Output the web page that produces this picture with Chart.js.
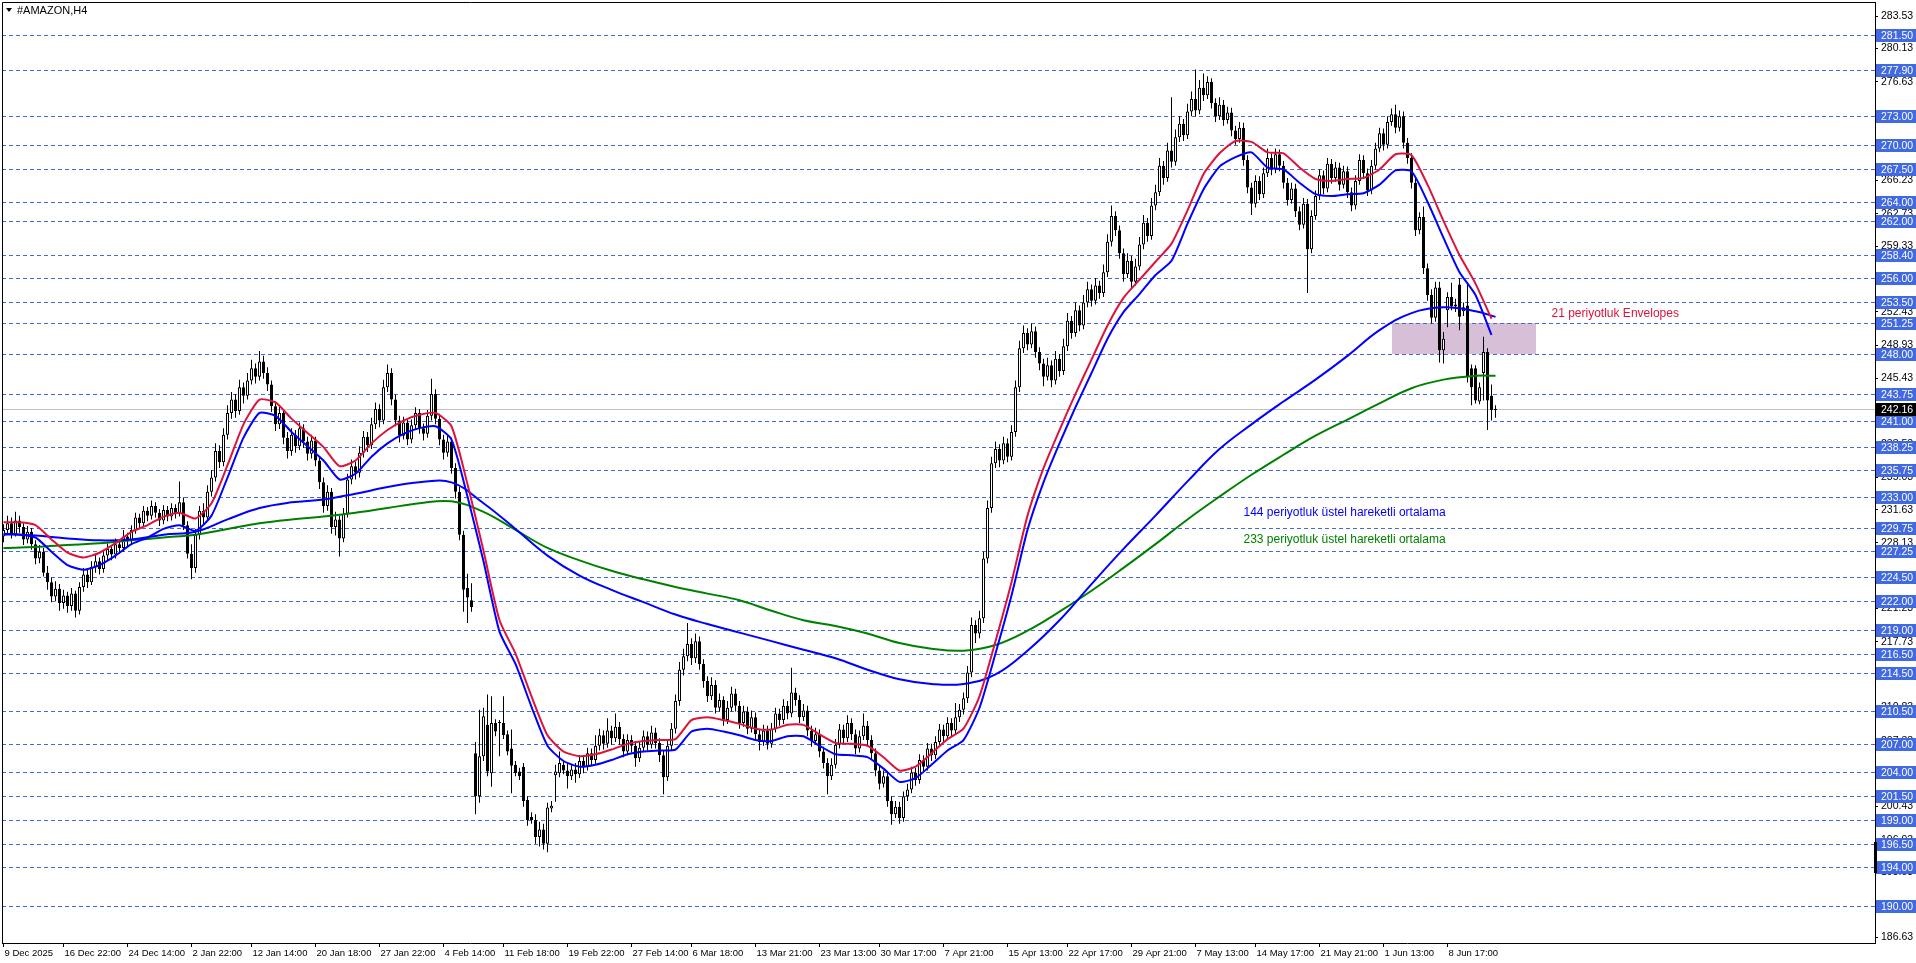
<!DOCTYPE html>
<html>
<head>
<meta charset="utf-8">
<title>#AMAZON,H4</title>
<script src="https://cdn.jsdelivr.net/npm/chart.js@4.4.1/dist/chart.umd.min.js"></script>
<style>
  html, body { margin: 0; padding: 0; background: #fff; }
  canvas { display: block; }
</style>
</head>
<body>
<canvas id="chart" width="1916" height="963"></canvas>
<script>
// time axis labels and the bar each one sits on
const timeLabels = ['9 Dec 2025', '16 Dec 22:00', '24 Dec 14:00', '2 Jan 22:00', '12 Jan 14:00', '20 Jan 18:00',
  '27 Jan 22:00', '4 Feb 14:00', '11 Feb 18:00', '19 Feb 22:00', '27 Feb 14:00', '6 Mar 18:00', '13 Mar 21:00',
  '23 Mar 13:00', '30 Mar 17:00', '7 Apr 21:00', '15 Apr 13:00', '22 Apr 17:00', '29 Apr 21:00', '7 May 13:00',
  '14 May 17:00', '21 May 21:00', '1 Jun 13:00', '8 Jun 17:00'];
const labelBars = [0, 15, 31, 47, 62, 78, 94, 110, 125, 141, 157, 172, 188, 204, 219, 235, 251, 266, 282, 298,
  313, 329, 345, 361];

// H4 candles
const open = [
  228.8,229.5,230.2,229.0,230.5,229.8,228.5,229.3,228.0,226.5,227.2,225.0,224.0,222.5,223.3,221.8,
  222.6,221.5,222.8,221.0,223.5,224.8,224.0,225.6,226.2,225.4,226.8,227.5,226.9,228.0,227.6,228.8,
  228.3,229.5,230.8,230.2,231.5,231.0,232.0,231.3,230.5,231.6,230.9,231.8,231.2,232.4,230.0,227.0,
  225.5,229.0,231.5,230.8,233.5,235.0,237.8,236.6,239.5,241.8,243.2,242.0,244.5,243.6,245.2,246.5,
  245.6,247.2,246.0,244.8,242.5,240.6,241.8,239.2,237.8,239.5,238.3,240.2,238.8,237.5,238.9,236.8,
  234.5,232.0,233.5,229.8,230.6,228.6,231.2,234.8,236.2,235.5,237.6,239.3,238.4,240.6,242.2,241.0,
  244.5,246.0,243.2,241.0,239.4,240.8,239.0,240.5,241.8,240.2,239.6,241.5,243.8,241.2,239.0,237.6,
  238.8,236.0,233.5,229.0,223.4,222.1,206.0,201.5,205.7,209.0,203.9,209.2,209.3,209.2,208.0,206.5,
  204.8,204.1,204.6,201.1,199.3,199.0,197.2,198.0,196.5,200.2,203.7,203.9,204.8,204.2,203.6,204.3,
  203.8,205.2,204.6,206.0,205.3,206.8,207.9,207.0,208.4,207.6,208.8,207.5,206.2,207.4,206.8,205.5,
  206.6,207.8,206.9,208.2,207.1,205.8,203.5,206.8,208.6,211.5,214.8,216.2,217.5,216.0,217.8,215.4,
  213.6,212.0,213.2,210.8,211.6,209.5,210.8,212.3,211.0,209.2,210.4,208.6,209.8,208.0,207.2,208.4,
  207.0,208.6,210.2,209.5,211.0,210.2,212.4,211.6,209.8,210.5,208.4,207.3,208.0,206.2,205.0,203.6,
  204.8,206.9,208.5,207.6,209.2,208.0,206.5,207.8,208.9,207.4,206.0,204.2,202.8,203.6,201.0,199.6,
  200.4,199.2,201.5,202.2,204.0,203.2,205.3,204.6,206.5,205.8,207.2,208.5,207.8,209.2,208.4,209.8,
  210.6,211.8,214.5,219.5,218.6,220.2,226.5,231.8,236.5,238.0,236.8,238.6,237.2,239.8,244.5,248.6,
  250.2,249.0,250.4,248.2,247.0,245.6,246.8,245.2,247.5,246.2,248.8,251.5,250.2,252.6,251.0,253.4,
  254.8,253.6,255.2,254.4,256.6,259.8,262.5,261.0,258.6,256.4,257.8,255.6,257.2,259.5,261.8,260.4,
  263.6,265.0,267.8,266.5,269.4,268.2,270.8,272.2,271.0,273.5,274.8,273.6,276.0,275.2,276.6,274.4,
  273.0,274.2,272.6,273.4,271.5,270.6,271.8,268.4,265.5,263.8,266.2,264.8,267.0,268.6,267.4,269.0,
  267.8,266.0,264.2,265.4,263.0,261.6,263.8,259.0,262.5,264.6,266.8,265.4,268.0,266.5,267.6,265.8,
  267.2,265.0,263.6,266.2,268.4,267.0,265.2,267.8,269.6,271.2,270.0,272.4,273.2,271.8,273.0,270.2,
  268.6,266.0,261.0,262.4,257.0,254.2,251.8,255.0,248.4,252.6,254.0,253.0,255.3,252.5,253.1,246.5,
  246.5,243.0,246.0,248.2,243.6,242.1
];
const high = [
  230.1,231.0,230.8,231.4,231.0,230.2,229.9,229.7,228.4,227.9,227.6,225.7,224.5,224.1,223.8,223.2,
  223.0,223.4,223.1,224.0,225.5,225.3,226.2,226.9,226.6,227.3,228.1,227.9,228.6,228.5,229.5,229.2,
  230.0,231.3,231.2,232.0,231.9,232.6,232.4,231.7,232.1,232.0,232.3,232.2,234.6,232.9,230.4,228.0,
  229.6,232.0,232.3,234.2,235.8,238.6,238.4,240.2,242.6,244.0,243.8,245.3,245.0,246.0,247.4,247.0,
  248.3,247.8,246.6,245.2,243.0,242.5,242.2,239.8,240.2,240.0,240.8,240.6,239.3,239.5,239.3,237.2,
  235.0,234.2,233.9,231.4,231.0,231.8,235.4,236.9,236.7,238.3,239.9,239.8,241.3,242.9,242.7,245.3,
  246.9,246.5,243.7,241.5,241.4,241.2,241.1,242.4,242.2,240.7,242.1,245.4,244.3,241.7,239.5,239.4,
  239.2,236.5,234.0,229.4,224.9,223.9,207.2,210.6,210.8,212.2,212.0,209.6,209.5,212.0,208.4,208.5,
  205.2,204.5,205.0,201.5,199.8,199.6,198.8,198.6,200.8,201.0,204.8,206.2,205.3,205.0,204.8,205.0,
  205.8,205.7,206.6,206.5,207.9,208.6,208.4,209.7,208.9,210.2,209.3,208.0,208.0,207.9,207.3,207.3,
  208.4,208.3,208.9,208.7,207.6,206.3,207.4,209.2,212.2,215.6,217.0,219.7,218.1,218.6,218.3,215.9,
  214.1,214.0,213.7,212.3,212.0,211.5,213.0,212.8,211.5,211.0,210.9,210.5,210.3,208.5,209.0,208.9,
  209.2,210.8,210.7,211.7,211.5,215.0,212.9,212.1,211.2,211.0,208.9,208.7,208.5,206.7,205.5,205.5,
  207.5,209.1,209.0,210.0,209.7,208.5,208.4,210.2,209.4,207.9,206.5,204.7,204.2,204.1,201.5,201.0,
  200.9,202.0,202.8,204.6,204.5,205.9,205.8,207.1,207.0,207.8,209.1,209.0,209.8,209.7,211.3,211.2,
  212.4,215.2,220.3,220.0,221.0,227.2,232.6,237.2,238.8,238.5,239.3,239.1,240.5,245.2,249.4,251.0,
  250.7,251.2,250.9,248.7,247.5,247.6,247.3,248.3,248.0,249.6,252.3,252.0,253.4,253.1,254.2,255.6,
  255.3,256.0,255.7,257.4,260.6,263.6,263.0,261.5,259.1,258.6,258.3,258.0,260.3,262.6,262.3,264.4,
  265.8,268.6,268.3,270.2,275.0,271.6,273.0,272.7,274.3,275.6,277.9,276.8,277.5,277.2,277.0,274.9,
  275.0,274.7,274.0,273.9,272.0,272.4,272.3,268.9,266.0,266.8,266.7,267.6,269.6,269.1,269.6,269.5,
  268.3,266.5,266.0,265.9,263.5,264.4,264.3,263.1,265.2,267.4,267.3,268.6,268.5,268.2,268.1,267.8,
  267.7,265.5,266.8,269.0,268.9,267.5,268.4,270.2,271.8,271.7,273.0,273.8,274.2,273.6,273.5,270.7,
  269.1,266.5,262.9,263.5,257.5,254.8,255.6,255.6,250.3,254.5,255.5,253.8,256.0,253.4,255.5,246.9,
  246.8,245.0,249.8,248.6,244.8,242.6
];
const low = [
  228.2,229.0,228.6,228.8,229.2,227.9,228.1,227.4,225.9,226.0,224.6,223.2,221.9,222.0,221.0,221.2,
  220.8,221.0,220.3,220.6,223.0,223.4,223.7,225.0,224.8,225.0,226.3,226.3,226.5,227.0,227.2,227.7,
  227.9,229.1,229.7,229.9,230.4,230.6,230.8,229.9,230.1,230.4,230.5,230.7,230.9,229.5,226.5,224.3,
  225.0,228.5,230.1,230.4,233.0,234.6,236.0,236.2,239.0,241.2,241.3,241.6,242.8,243.2,244.8,244.9,
  245.2,245.4,244.1,241.9,239.9,240.1,238.5,237.0,237.3,237.6,237.9,238.1,236.8,237.0,236.2,233.8,
  231.3,231.5,229.1,228.9,226.7,228.2,230.8,234.3,234.8,235.0,237.1,237.7,238.0,240.1,240.3,240.6,
  244.0,242.6,240.4,238.7,239.0,238.4,238.6,240.0,239.6,238.9,239.2,241.0,240.6,238.4,236.9,237.2,
  235.4,232.8,228.4,220.9,219.7,220.9,199.6,200.8,205.2,203.6,202.5,207.8,205.7,207.5,205.8,201.8,
  203.6,203.2,200.4,198.4,198.6,196.5,196.2,195.9,195.6,199.8,200.9,203.5,203.8,202.3,203.2,202.9,
  203.4,203.9,204.2,204.7,204.9,206.3,206.4,206.6,206.9,207.2,206.9,205.6,205.8,206.1,204.6,205.1,
  206.2,206.3,206.5,206.5,205.1,201.7,203.1,206.3,208.1,211.0,214.2,215.7,215.3,215.5,214.8,212.9,
  211.4,211.6,210.2,210.4,208.9,209.1,210.4,210.4,208.6,208.8,208.0,208.2,207.4,206.3,206.8,206.4,
  206.6,208.2,208.9,209.1,209.6,209.8,211.0,209.2,209.4,207.8,206.7,206.9,205.6,204.4,201.7,203.2,
  204.4,206.5,207.0,207.2,207.4,205.9,206.1,207.4,206.8,205.4,203.6,202.2,202.4,200.4,198.5,199.2,
  198.6,198.8,201.0,201.8,202.6,202.8,204.0,204.2,205.2,205.4,206.8,207.2,207.4,207.8,208.0,209.3,
  210.1,211.3,214.0,217.6,218.1,219.7,226.0,231.3,236.0,236.1,236.4,236.6,236.8,239.3,244.0,248.1,
  248.4,248.6,247.6,246.3,244.6,245.2,244.5,244.8,245.6,245.8,248.3,249.6,249.8,250.4,250.6,252.9,
  253.0,253.2,253.8,254.0,256.1,259.3,260.4,258.0,255.6,256.0,254.8,255.2,256.8,259.0,259.8,260.0,
  263.1,264.6,265.8,266.1,267.6,267.8,270.3,270.4,270.6,273.0,273.0,273.2,274.6,274.8,273.8,272.4,
  272.6,272.0,272.2,270.9,270.0,270.2,267.8,264.9,262.6,263.4,264.2,264.4,266.6,266.8,267.0,267.2,
  265.4,263.6,263.8,262.4,261.0,261.2,254.4,258.6,262.1,264.2,264.8,265.0,265.9,266.1,265.2,265.4,
  264.4,263.0,263.2,265.8,266.4,264.6,264.8,267.4,269.2,269.4,269.6,272.0,271.2,271.4,269.6,268.0,
  265.4,260.4,260.6,256.4,253.6,251.2,251.4,247.1,247.0,250.8,252.6,252.4,250.5,252.0,245.0,242.6,
  242.8,242.7,243.1,240.0,241.0,241.3
];
const close = [
  229.5,230.2,229.0,230.5,229.8,228.5,229.3,228.0,226.5,227.2,225.0,224.0,222.5,223.3,221.8,222.6,
  221.5,222.8,221.0,223.5,224.8,224.0,225.6,226.2,225.4,226.8,227.5,226.9,228.0,227.6,228.8,228.3,
  229.5,230.8,230.2,231.5,231.0,232.0,231.3,230.5,231.6,230.9,231.8,231.2,232.4,230.0,227.0,225.5,
  229.0,231.5,230.8,233.5,235.0,237.8,236.6,239.5,241.8,243.2,242.0,244.5,243.6,245.2,246.5,245.6,
  247.2,246.0,244.8,242.5,240.6,241.8,239.2,237.8,239.5,238.3,240.2,238.8,237.5,238.9,236.8,234.5,
  232.0,233.5,229.8,230.6,228.6,231.2,234.8,236.2,235.5,237.6,239.3,238.4,240.6,242.2,241.0,244.5,
  246.0,243.2,241.0,239.4,240.8,239.0,240.5,241.8,240.2,239.6,241.5,243.8,241.2,239.0,237.6,238.8,
  236.0,233.5,229.0,223.2,222.4,221.4,201.5,205.7,209.9,204.1,209.2,208.3,209.2,207.9,206.2,204.7,
  203.9,203.6,201.0,199.0,199.0,197.2,198.0,196.5,200.3,200.5,204.1,205.0,204.2,203.6,204.3,203.8,
  205.2,204.6,206.0,205.3,206.8,207.9,207.0,208.4,207.6,208.8,207.5,206.2,207.4,206.8,205.5,206.6,
  207.8,206.9,208.2,207.1,205.8,203.5,206.8,208.6,211.5,214.8,216.2,217.5,216.0,217.8,215.4,213.6,
  212.0,213.2,210.8,211.6,209.5,210.8,212.3,211.0,209.2,210.4,208.6,209.8,208.0,207.2,208.4,207.0,
  208.6,210.2,209.5,211.0,210.2,212.4,211.6,209.8,210.5,208.4,207.3,208.0,206.2,205.0,203.6,204.8,
  206.9,208.5,207.6,209.2,208.0,206.5,207.8,208.9,207.4,206.0,204.2,202.8,203.6,201.0,199.6,200.4,
  199.2,201.5,202.2,204.0,203.2,205.3,204.6,206.5,205.8,207.2,208.5,207.8,209.2,208.4,209.8,210.6,
  211.8,214.5,219.5,218.6,220.2,226.5,231.8,236.5,238.0,236.8,238.6,237.2,239.8,244.5,248.6,250.2,
  249.0,250.4,248.2,247.0,245.6,246.8,245.2,247.5,246.2,248.8,251.5,250.2,252.6,251.0,253.4,254.8,
  253.6,255.2,254.4,256.6,259.8,262.5,261.0,258.6,256.4,257.8,255.6,257.2,259.5,261.8,260.4,263.6,
  265.0,267.8,266.5,269.4,268.2,270.8,272.2,271.0,273.5,274.8,273.6,276.0,275.2,276.6,274.4,273.0,
  274.2,272.6,273.4,271.5,270.6,271.8,268.4,265.5,263.8,266.2,264.8,267.0,268.6,267.4,269.0,267.8,
  266.0,264.2,265.4,263.0,261.6,263.8,259.0,262.5,264.6,266.8,265.4,268.0,266.5,267.6,265.8,267.2,
  265.0,263.6,266.2,268.4,267.0,265.2,267.8,269.6,271.2,270.0,272.4,273.2,271.8,273.0,270.2,268.6,
  266.0,261.0,262.4,257.0,254.2,251.8,255.0,248.4,249.6,254.0,253.0,253.2,251.9,252.9,245.6,244.5,
  243.1,244.5,248.2,243.1,242.1,242.16
];

// 21 period Envelopes, read every 4th bar
const envStep = 4;
const envUpper = [
  230.3,230.3,230.0,228.5,227.1,226.6,227.1,228.1,229.3,230.0,230.9,231.3,230.7,232.3,236.3,240.6,
  243.2,242.9,241.2,239.7,238.2,236.2,236.8,238.6,240.0,241.0,241.6,241.8,240.4,234.3,227.3,220.0,
  216.5,212.0,207.9,206.2,205.7,205.9,206.4,207.0,207.3,207.4,207.5,209.5,209.8,209.5,209.1,208.6,
  208.5,209.0,209.0,208.0,207.1,207.0,206.8,205.6,204.2,204.6,206.0,207.5,208.6,212.0,217.8,224.0,
  231.0,236.0,240.0,243.8,247.4,251.0,253.9,255.8,257.7,259.6,263.1,266.9,269.1,270.4,270.3,269.2,
  269.1,267.6,266.4,266.2,266.4,266.5,267.4,269.0,268.9,265.8,262.0,258.4,255.4,251.7
];
const envLower = [
  229.0,229.0,228.7,227.2,225.8,225.3,225.8,226.8,228.0,228.7,229.6,230.0,229.4,231.0,235.0,239.2,
  241.8,241.5,239.8,238.3,236.8,234.8,235.4,237.2,238.6,239.6,240.2,240.4,239.0,233.0,226.2,218.8,
  215.4,210.9,206.8,205.2,204.6,204.8,205.3,205.9,206.2,206.3,206.4,208.3,208.6,208.3,207.9,207.4,
  207.3,207.8,207.8,206.8,205.9,205.8,205.6,204.4,203.0,203.4,204.8,206.3,207.4,210.8,216.5,222.6,
  229.5,234.5,238.6,242.4,246.0,249.6,252.4,254.3,256.3,257.8,261.7,265.3,267.7,268.7,269.2,267.6,
  267.4,266.0,264.8,264.6,264.8,264.9,265.8,267.3,267.2,264.0,260.2,256.6,254.2,250.0
];

// exponential moving averages, read at these bars
const emaAt = [0,8,16,24,32,40,48,56,64,72,80,88,96,104,112,120,
  128,136,144,152,160,168,176,184,192,200,208,216,224,232,240,248,
  256,264,272,280,288,296,304,312,320,328,336,344,352,360,368,373];
const ema144 = [
  229.1,228.9,228.6,228.4,228.5,229.0,229.3,230.6,231.8,232.4,232.7,233.3,234.0,234.5,234.5,232.3,
  229.6,226.8,224.7,223.2,221.9,220.6,219.6,218.7,217.8,216.9,216.0,214.8,213.8,213.3,213.3,214.3,
  216.8,220.0,223.8,227.5,231.0,234.6,238.0,240.6,243.0,245.3,247.8,250.5,252.3,252.9,252.5,251.9
];
const ema233 = [
  227.6,227.7,227.9,228.1,228.4,228.7,229.0,229.6,230.2,230.6,230.9,231.3,231.8,232.3,232.5,231.4,
  229.5,227.6,226.3,225.2,224.3,223.5,222.8,222.1,221.0,220.0,219.4,218.6,217.6,217.0,216.8,217.4,
  218.9,220.9,223.1,225.5,228.0,230.6,233.0,235.3,237.4,239.4,241.1,242.8,244.4,245.3,245.7,245.7
];

// horizontal levels drawn on the chart
const levels = [281.50, 277.90, 273.00, 270.00, 267.50, 264.00, 262.00, 258.40, 256.00, 253.50, 251.25,
  248.00, 243.75, 241.00, 238.25, 235.75, 233.00, 229.75, 227.25, 224.50, 222.00, 219.00, 216.50, 214.50,
  210.50, 207.00, 204.00, 201.50, 199.00, 196.50, 194.00, 190.00];
// price scale ticks
const priceTicks = [283.53, 280.13, 276.63, 273.13, 269.73, 266.23, 262.73, 259.33, 255.83, 252.43, 248.93,
  245.43, 242.03, 238.53, 235.03, 231.63, 228.13, 224.63, 221.23, 217.73, 214.23, 210.83, 207.33, 203.83,
  200.43, 196.93, 193.53, 190.03, 186.63];
const lastPrice = 242.16;
// shaded zone: bars 347..383, 248.00 - 251.25
const zoneBars = [347, 383];
const zonePrices = [248.00, 251.25];

const notes = [
  { text: '21 periyotluk Envelopes', bar: 387, price: 252.2, color: '#dc143c' },
  { text: '144 periyotluk üstel hareketli ortalama', bar: 310, price: 231.3, color: '#0000ff' },
  { text: '233 periyotluk üstel hareketli ortalama', bar: 310, price: 228.5, color: '#008000' }
];

const FONT = '"Liberation Sans", Arial, sans-serif';

const mt4 = {
  id: 'mt4',
  beforeDatasetsDraw(chart) {
    const { ctx, chartArea: a, scales: { x, y } } = chart;
    ctx.save();
    ctx.beginPath();
    ctx.rect(a.left, a.top, a.right - a.left, a.bottom - a.top);
    ctx.clip();
    // zone
    const zx1 = Math.round(x.getPixelForValue(zoneBars[0]));
    const zx2 = Math.round(x.getPixelForValue(zoneBars[1]));
    const zy1 = Math.round(y.getPixelForValue(zonePrices[1]));
    const zy2 = Math.round(y.getPixelForValue(zonePrices[0]));
    ctx.fillStyle = '#d8bfd8';
    ctx.fillRect(zx1, zy1, zx2 - zx1, zy2 - zy1);
    // dashed levels
    ctx.strokeStyle = '#4169e1';
    ctx.lineWidth = 1;
    ctx.setLineDash([4, 3]);
    levels.forEach(v => {
      const py = Math.round(y.getPixelForValue(v)) + 0.5;
      ctx.beginPath();
      ctx.moveTo(a.left, py);
      ctx.lineTo(a.right, py);
      ctx.stroke();
    });
    ctx.setLineDash([]);
    // bid line
    ctx.strokeStyle = '#c0c0c0';
    const by = Math.round(y.getPixelForValue(lastPrice)) + 0.5;
    ctx.beginPath();
    ctx.moveTo(a.left, by);
    ctx.lineTo(a.right, by);
    ctx.stroke();
    ctx.restore();
  },
  afterDraw(chart) {
    const { ctx, chartArea: a, scales: { x, y } } = chart;
    ctx.save();
    // frame left/top
    ctx.strokeStyle = '#000';
    ctx.lineWidth = 1;
    ctx.beginPath();
    ctx.moveTo(a.left + 0.5, a.bottom);
    ctx.lineTo(a.left + 0.5, a.top + 0.5);
    ctx.lineTo(a.right, a.top + 0.5);
    ctx.stroke();

    // price tags on the scale
    ctx.font = '10.5px ' + FONT;
    ctx.textBaseline = 'middle';
    ctx.textAlign = 'left';
    const boxL = a.right + 1;
    const boxW = chart.width - boxL;
    const tag = (v, bg) => {
      const py = Math.round(y.getPixelForValue(v));
      ctx.fillStyle = bg;
      ctx.fillRect(boxL, py - 6, boxW, 13);
      ctx.fillStyle = '#fff';
      ctx.fillText(v.toFixed(2), boxL + 5, py + 1);
    };
    levels.forEach(v => tag(v, '#4169e1'));
    tag(lastPrice, '#000');

    // scale marker
    const my1 = Math.round(y.getPixelForValue(196.7));
    const my2 = Math.round(y.getPixelForValue(193.4));
    ctx.fillStyle = '#000';
    ctx.fillRect(a.right - 1, my1, 3, my2 - my1);

    // title
    ctx.beginPath();
    ctx.moveTo(6, 8);
    ctx.lineTo(12, 8);
    ctx.lineTo(9, 12);
    ctx.closePath();
    ctx.fill();
    ctx.font = '11px ' + FONT;
    ctx.fillText('#AMAZON,H4', 17, 11);

    // text objects
    ctx.font = '12px ' + FONT;
    notes.forEach(n => {
      ctx.fillStyle = n.color;
      ctx.fillText(n.text, x.getPixelForValue(n.bar), y.getPixelForValue(n.price));
    });
    ctx.restore();
  }
};

const bars = open.map((o, i) => i);

new Chart(document.getElementById('chart'), {
  type: 'bar',
  data: {
    datasets: [
      {
        type: 'line', label: 'Envelopes upper',
        data: envUpper.map((v, k) => ({ x: k * envStep, y: v })),
        borderColor: '#dc143c', borderWidth: 2, pointRadius: 0, tension: 0.2, order: 0
      },
      {
        type: 'line', label: 'Envelopes lower',
        data: envLower.map((v, k) => ({ x: k * envStep, y: v })),
        borderColor: '#0000ff', borderWidth: 2, pointRadius: 0, tension: 0.2, order: 0
      },
      {
        type: 'line', label: 'EMA 144',
        data: ema144.map((v, k) => ({ x: emaAt[k], y: v })),
        borderColor: '#0000ff', borderWidth: 2, pointRadius: 0, tension: 0.4, order: 0
      },
      {
        type: 'line', label: 'EMA 233',
        data: ema233.map((v, k) => ({ x: emaAt[k], y: v })),
        borderColor: '#008000', borderWidth: 2, pointRadius: 0, tension: 0.4, order: 0
      },
      {
        label: 'body',
        data: bars.map(i => ({ x: i, y: [Math.min(open[i], close[i]), Math.max(open[i], close[i])] })),
        backgroundColor: bars.map(i => close[i] > open[i] ? '#ffffff' : '#000000'),
        borderColor: '#000', borderWidth: 1, borderSkipped: false,
        barThickness: 3, minBarLength: 1, grouped: false, inflateAmount: 0, order: 1
      },
      {
        label: 'wick',
        data: bars.map(i => ({ x: i, y: [low[i], high[i]] })),
        backgroundColor: '#000', borderWidth: 0,
        barThickness: 1, grouped: false, inflateAmount: 0, order: 2
      }
    ]
  },
  options: {
    responsive: false,
    animation: false,
    devicePixelRatio: 1,
    layout: { padding: { left: 2, top: 2, right: 0, bottom: 0 } },
    plugins: { legend: { display: false }, tooltip: { enabled: false } },
    scales: {
      x: {
        type: 'linear', min: -0.375, max: 467.875, offset: false,
        afterBuildTicks: s => { s.ticks = labelBars.map(b => ({ value: b })); },
        afterFit: s => { s.height = 20; s.paddingLeft = 0; s.paddingRight = 0; },
        ticks: {
          callback: v => timeLabels[labelBars.indexOf(v)],
          autoSkip: false, maxRotation: 0, align: 'start', labelOffset: 1, padding: 1,
          color: '#000', font: { family: FONT, size: 9.5 }
        },
        grid: { drawOnChartArea: false, offset: false, color: '#000', tickLength: 4 },
        border: { color: '#000', width: 1 }
      },
      y: {
        position: 'right', min: 186.06, max: 285.01,
        afterBuildTicks: s => { s.ticks = priceTicks.map(v => ({ value: v })); },
        afterFit: s => { s.width = 41; s.paddingTop = 0; s.paddingBottom = 0; },
        ticks: {
          callback: v => v.toFixed(2), autoSkip: false, padding: 3,
          color: '#000', font: { family: FONT, size: 10.5 }
        },
        grid: { drawOnChartArea: false, color: '#000', tickLength: 3 },
        border: { color: '#000', width: 1 }
      }
    }
  },
  plugins: [mt4]
});
</script>
</body>
</html>
